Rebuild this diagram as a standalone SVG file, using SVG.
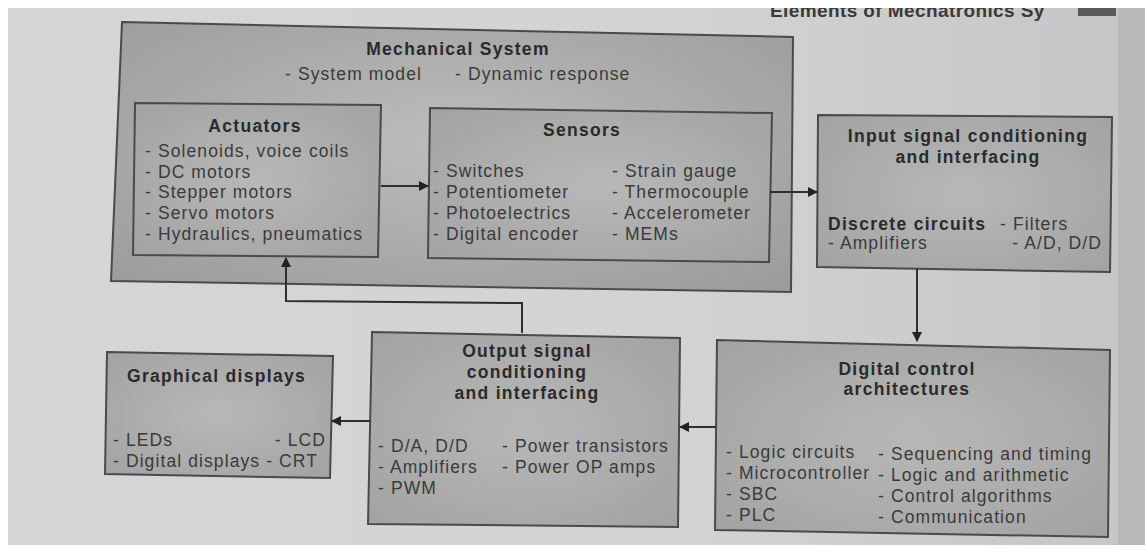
<svg xmlns="http://www.w3.org/2000/svg" width="1145" height="554" viewBox="0 0 1145 554">
<defs>
<style>
.box{stroke:#4a4a4a;stroke-width:2}
.t{font-family:"Liberation Sans",Arial,sans-serif;font-size:17.5px;fill:#3a3a3a;letter-spacing:1.1px}
.b{font-family:"Liberation Sans",Arial,sans-serif;font-size:17.5px;font-weight:bold;fill:#2a2a2a;letter-spacing:1.3px}
.c{stroke:#2e2e2e;stroke-width:2;fill:none}
</style>
<radialGradient id="g1" cx="0.5" cy="0.45" r="0.7">
<stop offset="0" stop-color="#bdbdbd"/><stop offset="1" stop-color="#9c9c9c"/>
</radialGradient>
<radialGradient id="g2" cx="0.5" cy="0.5" r="0.7">
<stop offset="0" stop-color="#b8b8b8"/><stop offset="1" stop-color="#a2a2a2"/>
</radialGradient>
<linearGradient id="pg" x1="0" y1="0" x2="1" y2="0">
<stop offset="0" stop-color="#d6d6d8"/><stop offset="0.6" stop-color="#d3d3d5"/><stop offset="1" stop-color="#c6c6c8"/>
</linearGradient>
<marker id="ah" viewBox="0 0 10 10" refX="9" refY="5" markerWidth="5" markerHeight="5" orient="auto">
<path d="M0,0 L10,5 L0,10 z" fill="#222"/>
</marker>
<clipPath id="hc"><rect x="0" y="8" width="1145" height="20"/></clipPath>
</defs>
<rect width="1145" height="554" fill="#ffffff"/>
<rect x="8" y="8" width="1112" height="537" fill="url(#pg)"/>
<rect x="1118" y="8" width="27" height="537" fill="#b9b9bb"/>
<g clip-path="url(#hc)">
<text x="770" y="17" class="b" style="font-size:19px;fill:#3a3a3a;letter-spacing:0.4px">Elements of Mechatronics Sy</text>
<rect x="1078" y="8" width="38" height="8" fill="#5a5a5a"/>
</g>

<g id="mechanical-system">
<polygon class="box" points="122,22 793,37 791,292 111,281" fill="url(#g1)"/>
<text x="458" y="55" class="b" text-anchor="middle">Mechanical System</text>
<text x="285" y="80" class="t">- System model</text>
<text x="455" y="80" class="t">- Dynamic response</text>
</g>

<g id="actuators">
<polygon class="box" points="135,103 381,105 378,257 133,255" fill="url(#g2)"/>
<text x="255" y="132" class="b" text-anchor="middle">Actuators</text>
<text x="145" y="157" class="t">- Solenoids, voice coils</text>
<text x="145" y="178" class="t">- DC motors</text>
<text x="145" y="198" class="t">- Stepper motors</text>
<text x="145" y="219" class="t">- Servo motors</text>
<text x="145" y="240" class="t">- Hydraulics, pneumatics</text>
</g>

<g id="sensors">
<polygon class="box" points="430,108 772,113 769,262 428,258" fill="url(#g2)"/>
<text x="582" y="136" class="b" text-anchor="middle">Sensors</text>
<text x="433" y="177" class="t">- Switches</text>
<text x="433" y="198" class="t">- Potentiometer</text>
<text x="433" y="219" class="t">- Photoelectrics</text>
<text x="433" y="240" class="t">- Digital encoder</text>
<text x="612" y="177" class="t">- Strain gauge</text>
<text x="612" y="198" class="t">- Thermocouple</text>
<text x="612" y="219" class="t">- Accelerometer</text>
<text x="612" y="240" class="t">- MEMs</text>
</g>

<g id="input-signal">
<polygon class="box" points="818,115 1112,117 1110,272 817,267" fill="url(#g2)"/>
<text x="968" y="142" class="b" text-anchor="middle">Input signal conditioning</text>
<text x="968" y="163" class="b" text-anchor="middle">and interfacing</text>
<text x="828" y="230" class="b">Discrete circuits</text>
<text x="1000" y="230" class="t">- Filters</text>
<text x="828" y="249" class="t">- Amplifiers</text>
<text x="1102" y="249" class="t" text-anchor="end">- A/D, D/D</text>
</g>

<g id="digital-control">
<polygon class="box" points="717,340 1110,350 1108,537 715,530" fill="url(#g2)"/>
<text x="907" y="375" class="b" text-anchor="middle">Digital control</text>
<text x="907" y="395" class="b" text-anchor="middle">architectures</text>
<text x="726" y="458" class="t">- Logic circuits</text>
<text x="726" y="479" class="t">- Microcontroller</text>
<text x="726" y="500" class="t">- SBC</text>
<text x="726" y="521" class="t">- PLC</text>
<text x="878" y="460" class="t">- Sequencing and timing</text>
<text x="878" y="481" class="t">- Logic and arithmetic</text>
<text x="878" y="502" class="t">- Control algorithms</text>
<text x="878" y="523" class="t">- Communication</text>
</g>

<g id="output-signal">
<polygon class="box" points="372,332 680,338 678,527 368,524" fill="url(#g2)"/>
<text x="527" y="357" class="b" text-anchor="middle">Output signal</text>
<text x="527" y="378" class="b" text-anchor="middle">conditioning</text>
<text x="527" y="399" class="b" text-anchor="middle">and interfacing</text>
<text x="378" y="452" class="t">- D/A, D/D</text>
<text x="502" y="452" class="t">- Power transistors</text>
<text x="378" y="473" class="t">- Amplifiers</text>
<text x="502" y="473" class="t">- Power OP amps</text>
<text x="378" y="494" class="t">- PWM</text>
</g>

<g id="graphical-displays">
<polygon class="box" points="107,352 333,356 330,478 105,474" fill="url(#g2)"/>
<text x="127" y="382" class="b">Graphical displays</text>
<text x="113" y="446" class="t">- LEDs</text>
<text x="326" y="446" class="t" text-anchor="end">- LCD</text>
<text x="113" y="467" class="t">- Digital displays - CRT</text>
</g>

<g id="connectors">
<line class="c" x1="381" y1="186" x2="428" y2="186" marker-end="url(#ah)"/>
<line class="c" x1="770" y1="192" x2="817" y2="192" marker-end="url(#ah)"/>
<line class="c" x1="917" y1="269" x2="917" y2="341" marker-end="url(#ah)"/>
<line class="c" x1="716" y1="427" x2="680" y2="427" marker-end="url(#ah)"/>
<line class="c" x1="370" y1="421" x2="332" y2="421" marker-end="url(#ah)"/>
<polyline class="c" points="522,333 522,303 286,301 286,258" marker-end="url(#ah)"/>
</g>
</svg>
